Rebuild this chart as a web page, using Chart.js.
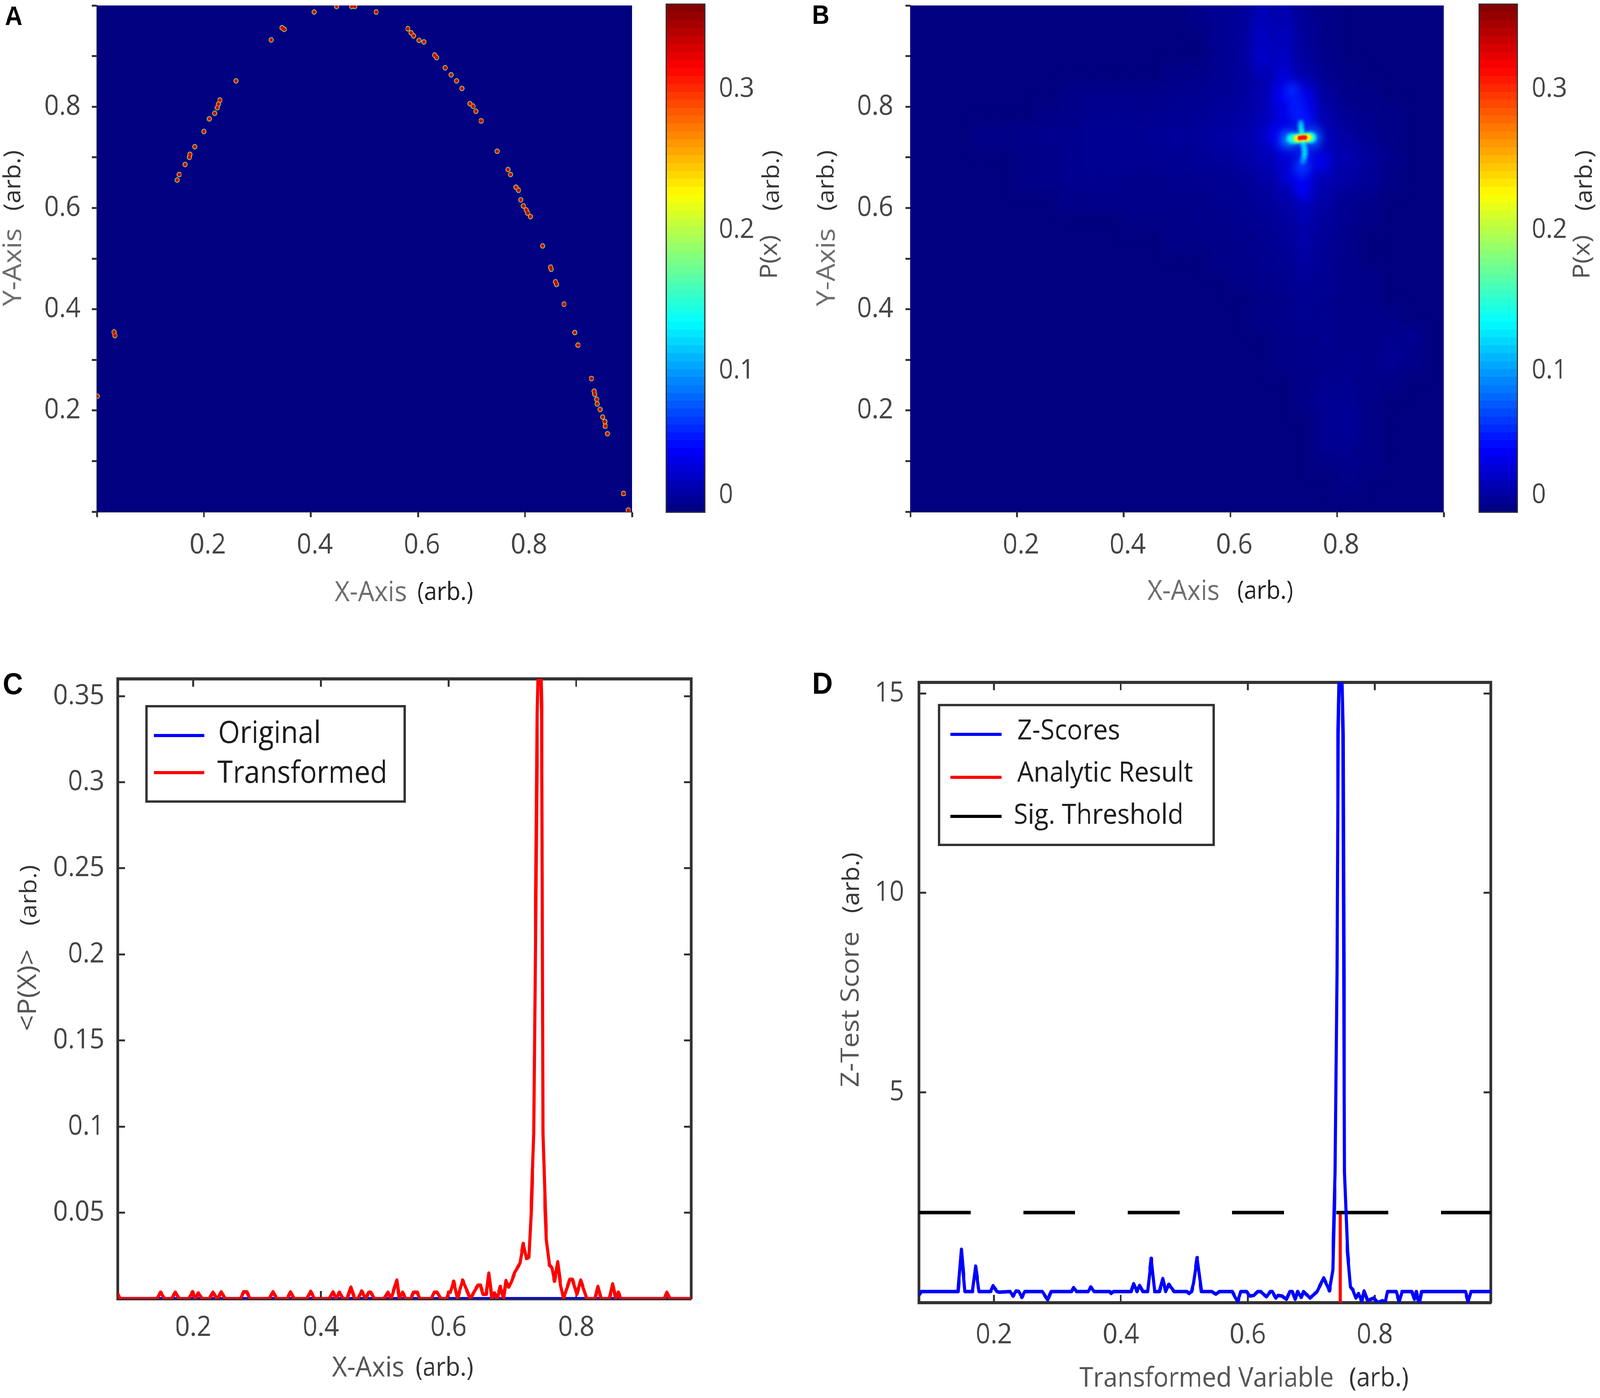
<!DOCTYPE html>
<html>
<head>
<meta charset="UTF-8">
<title>Transformed variable</title>
<script src="https://cdn.jsdelivr.net/npm/chart.js@4"></script>
<style>
html,body{margin:0;padding:0;background:#fff;overflow:hidden;}
#page{position:relative;width:4445px;height:3579px;overflow:hidden;background:#fff;transform-origin:0 0;}
canvas{position:absolute;}
</style>
</head>
<body>
<div id="page"></div>
<script>
// panel A: spots along the arc
var aX = [.001,.032,.034,.150,.154,.165,.173,.174,.183,.200,.210,.220,.225,.227,.230,.260,.326,.346,.350,.406,.448,.476,.482,.522,
  .581,.587,.592,.602,.611,.631,.635,.651,.662,.672,.682,.697,.703,.708,.718,.748,.768,.773,.783,.788,.792,.797,.802,.805,.810,
  .833,.848,.849,.857,.859,.873,.893,.899,.924,.929,.930,.934,.935,.940,.945,.949,.950,.954,.984,.993];
var aY = [.228,.355,.348,.655,.666,.686,.700,.706,.721,.751,.776,.787,.798,.805,.813,.851,.932,.956,.953,.987,.998,.998,.998,.987,
  .954,.946,.940,.931,.928,.902,.897,.877,.863,.851,.836,.806,.801,.791,.772,.712,.676,.666,.641,.635,.616,.604,.596,.590,.583,
  .525,.483,.479,.454,.449,.410,.354,.329,.263,.238,.232,.222,.213,.202,.187,.178,.169,.154,.036,.003];

// panel B: coarse density, in units of 0.0016 of P(x), top row first
var bGridX = [.02,.06,.10,.14,.18,.22,.26,.30,.34,.38,.42,.46,.50,.54,.58,.62,.66,.70,.74,.78,.82,.86,.90,.94,.98];
var bGridY = [.98,.94,.90,.86,.82,.78,.74,.70,.66,.62,.58,.54,.50,.46,.42,.38,.34,.30,.26,.22,.18,.14,.10,.06,.02];
var bGridRows = [
  [0,0,0,0,0,0,0,0,0,0,0,0,0,3,5,6,14,12,5,2,0,0,0,0,0],
  [0,0,0,0,0,0,0,0,0,0,0,0,0,0,5,7,16,14,6,2,0,0,0,0,0],
  [0,0,0,0,0,0,0,0,0,0,0,0,0,0,4,7,18,16,7,3,0,0,0,0,0],
  [0,0,0,0,0,0,0,0,0,0,0,0,2,3,5,7,12,20,10,4,2,0,0,0,0],
  [0,0,0,0,0,0,0,2,3,3,3,3,4,4,6,8,12,28,24,7,3,2,0,0,0],
  [0,0,0,0,0,0,2,3,4,4,4,4,5,6,7,9,13,24,30,10,5,3,2,0,0],
  [0,0,0,2,2,3,4,4,5,5,5,6,7,7,9,11,16,30,40,14,8,4,2,0,0],
  [0,0,0,0,0,2,3,4,5,5,5,5,5,6,7,9,13,20,32,16,12,7,3,0,0],
  [0,0,0,0,0,2,3,4,4,4,3,3,4,4,5,6,9,14,22,13,9,6,2,0,0],
  [0,0,0,0,0,0,0,3,3,3,3,3,3,3,4,5,7,10,16,9,5,3,0,0,0],
  [0,0,0,0,0,0,0,0,0,0,2,2,2,3,3,4,5,8,12,7,4,2,0,0,0],
  [0,0,0,0,0,0,0,0,0,0,0,0,2,2,3,3,4,6,10,6,3,0,0,0,0],
  [0,0,0,0,0,0,0,0,0,0,0,0,0,0,2,3,4,5,8,5,3,0,0,0,0],
  [0,0,0,0,0,0,0,0,0,0,0,0,0,0,0,2,3,4,6,5,3,2,0,0,0],
  [0,0,0,0,0,0,0,0,0,0,0,0,0,0,0,0,2,3,5,4,3,2,0,0,0],
  [0,0,0,0,0,0,0,0,0,0,0,0,0,0,0,0,2,3,4,4,3,3,2,0,0],
  [0,0,0,0,0,0,0,0,0,0,0,0,0,0,0,0,0,2,3,4,3,3,4,4,0],
  [0,0,0,0,0,0,0,0,0,0,0,0,0,0,0,0,0,2,3,3,4,3,5,3,0],
  [0,0,0,0,0,0,0,0,0,0,0,0,0,0,0,0,0,0,2,4,4,3,2,0,0],
  [0,0,0,0,0,0,0,0,0,0,0,0,0,0,0,0,0,0,2,5,5,2,0,0,0],
  [0,0,0,0,0,0,0,0,0,0,0,0,0,0,0,0,0,0,0,5,6,2,0,0,0],
  [0,0,0,0,0,0,0,0,0,0,0,0,0,0,0,0,0,0,0,5,5,2,0,0,0],
  [0,0,0,0,0,0,0,0,0,0,0,0,0,0,0,0,0,0,0,2,3,2,0,0,0],
  [0,0,0,0,0,0,0,0,0,0,0,0,0,0,0,0,0,0,0,0,2,0,0,0,0],
  [0,0,0,0,0,0,0,0,0,0,0,0,0,0,0,0,0,0,0,0,0,0,0,0,0]
];
// panel B: peak, layered from faint to hot
var bHaloX = [.716,.723,.725,.730,.734,.771,.711,.685,.708,.757,.734];
var bHaloY = [.831,.805,.784,.663,.638,.690,.663,.745,.735,.738,.681];
var bHaloV = [.060,.055,.055,.050,.045,.040,.035,.040,.095,.080,.065];
var bSpikeX = [.732,.732,.733,.734,.737,.738,.739,.739,.738,.736];
var bSpikeY = [.768,.761,.754,.747,.728,.721,.714,.706,.699,.692];
var bSpikeV = [.110,.125,.140,.150,.130,.125,.130,.140,.120,.100];
var bCyanX = [.714,.720,.726,.732,.738,.744,.749,.753];
var bCyanY = [.737,.737,.737,.738,.738,.739,.739,.739];
var bYellowX = [.724,.730,.736,.742,.747];
var bYellowY = [.737,.738,.738,.739,.739];
var bRedX = [.730,.735,.740];
var bRedY = [.738,.739,.739];

// panel C
var cX = [.0817,.085,
  .143,.149,.155,.166,.172,.178,
  .193,.199,.203,.208,.214,
  .225,.231,.237,.238,.244,.250,
  .274,.279,.284,.289,
  .319,.325,.331,.347,.3525,.358,
  .378,.384,.390,.413,.419,.424,.429,.435,
  .441,.447,.453,.458,.464,.470,
  .475,.478,.484,.499,.505,.510,
  .519,.523,.528,.533,.541,.545,.551,.555,
  .573,.5775,.582,.588,.597,.600,.603,.608,.614,
  .622,.634,.646,.650,.654,.659,.663,.668,
  .672,.6765,.681,.686,.690,.694,.698,.704,
  .712,.717,.722,.726,.7295,.7335,.736,.739,.7425,
  .746,.748,.7516,.7533,.758,.762,.766,.771,.7755,.780,
  .790,.794,.801,.807,.8165,.8295,.834,.839,
  .852,.857,.862,.866,.870,.938,.942,.947,.98];
var cTransformed = [.003,0,
  0,.0038,0,0,.0038,0,
  0,.0041,0,.0034,0,
  0,.0038,0,0,.004,0,
  0,.004,.004,0,
  0,.0041,0,0,.004,0,
  0,.0043,0,0,.004,0,.0038,0,
  0,.0068,0,0,.0045,0,
  .0038,.0038,0,0,.0038,0,
  .0109,0,.0038,0,0,.0038,.0038,0,
  0,.0038,.0038,0,0,.0038,.0038,.0102,0,
  .0109,0,.0079,.0079,.0026,.0026,.0149,0,
  .0034,0,.0072,0,.0106,.0068,.0094,.0155,
  .0207,.0321,.0234,.0241,.0509,.0962,.2,.34,.40,
  .34,.0962,.0509,.0343,.0196,.0181,.0102,.0215,.0079,0,
  .0113,.0113,.0026,.0109,0,0,.0072,0,
  0,.0087,0,.0038,0,0,.0038,0,0];
var cOriginalX = [.0817,.98];
var cOriginal = [0,0];
var cLegend = ['Original','Transformed'];

// panel D
var dX = [.0818,.0858,.1436,.1488,.1543,.1663,.1712,.1765,
  .1949,.1986,.2048,.2087,.2256,.2303,.2349,.2395,.2441,.2487,
  .2764,.2847,.2902,.3225,.3256,.3302,.3486,.3526,.3579,
  .3825,.3846,.3886,.4163,.4203,.4255,.4295,.4347,.4424,.4479,.4532,
  .4609,.466,.4707,.4756,.4839,.5039,.5076,.5116,.5146,.5202,.5269,
  .5341,.5433,.5495,.5556,.5756,.5802,.5842,.5888,.598,
  .6033,.6094,.6155,.6202,.6294,.6356,.6386,.6441,.6478,.654,.6608,
  .6663,.67,.6746,.6786,.6841,.6878,.698,.7093,.7195,.7287,.7339,
  .7376,.7405,.7422,.746,.7501,.7524,.757,.7617,.7653,
  .7702,.7745,.7794,.7831,.7887,.7984,.8047,.8123,.8163,.82,
  .8339,.8385,.8431,.8584,.8625,.8655,.8698,.8738,.943,.947,.9516,.9836];
var dZScores = [-.098,0,0,1.06,0,0,.637,0,
  0,.147,0,-.016,0,-.114,.016,0,-.147,0,
  0,-.212,0,0,.098,0,0,.114,0,
  0,-.049,0,0,.196,0,.154,0,0,.833,0,
  0,.327,0,.18,0,0,-.049,0,.212,.85,0,
  0,0,-.065,0,0,-.147,-.261,0,0,
  -.114,-.098,0,0,-.131,0,0,-.163,-.098,-.114,-.196,
  0,0,-.196,0,-.147,0,-.163,0,.343,.016,.539,
  2.99,8,14,17,14,2.99,1.03,.114,.049,
  -.163,-.049,-.245,.016,-.229,-.163,-.278,-.229,-.294,0,
  0,-.261,0,0,-.196,0,-.327,0,0,-.261,0,0];
var dThresholdX = [.082,.983];
var dThreshold = [1.98,1.98];
var dAnalyticX = [.7457,.7457];
var dAnalytic = [-.28,1.98];
var dLegend = ['Z-Scores','Analytic Result','Sig. Threshold'];

// ticks
var heatXTicks = [0,.2,.4,.6,.8,1];
var heatXLabels = ['','0.2','0.4','0.6','0.8',''];
var heatYTicks = [0,.1,.2,.3,.4,.5,.6,.7,.8,.9,1];
var heatYLabels = ['','','0.2','','0.4','','0.6','','0.8','',''];
var cbarTicks = [0,.05,.1,.15,.2,.25,.3,.35];
var cbarLabels = [['0',''],'','0.1','','0.2','','0.3',''];
var lineXTicks = [.2,.4,.6,.8];
var lineXLabels = ['0.2','0.4','0.6','0.8'];
var cYTicks = [.05,.1,.15,.2,.25,.3,.35];
var cYLabels = ['0.05','0.1','0.15','0.2','0.25','0.3','0.35'];
var dYTicks = [5,10,15];
var dYLabels = ['5','10','15'];
var cbarTop = [.36];

var FONT = "'Open Sans', sans-serif";
var INK = '#333';

// the browser window can come up narrower than the 4445px layout, so squeeze it to fit
if (window.innerWidth < 4445) {
  document.getElementById('page').style.transform = 'scaleX(' + (window.innerWidth / 4445) + ')';
}

function jet(v) {
  var t = Math.min(1, Math.max(0, v / .36));
  function ch(c) { return Math.round(255 * Math.min(1, Math.max(0, 1.5 - Math.abs(4 * t - c)))); }
  return 'rgb(' + ch(3) + ',' + ch(2) + ',' + ch(1) + ')';
}

function pts(xs, ys, vs) {
  return xs.map(function(x, i) { return {x: x, y: ys[i], v: vs ? vs[i] : 0}; });
}

function gridPts() {
  var out = [];
  bGridRows.forEach(function(row, r) {
    row.forEach(function(v, c) {
      if (v > 0) out.push({x: bGridX[c], y: bGridY[r], v: v * .0016});
    });
  });
  // brightest on top
  return out.sort(function(a, b) { return a.v - b.v; });
}

// blur per dataset, for the interpolated look of the heat maps
var blurPlugin = {
  id: 'blurLayer',
  beforeDatasetDraw: function(chart, args) {
    var b = chart.data.datasets[args.index].blurPx;
    if (b) { chart.ctx.save(); chart.ctx.filter = 'blur(' + b + 'px)'; }
  },
  afterDatasetDraw: function(chart, args) {
    if (chart.data.datasets[args.index].blurPx) chart.ctx.restore();
  }
};

var plotBg = {
  id: 'plotBg',
  beforeDatasetsDraw: function(chart, args, opts) {
    if (!opts.color) return;
    var a = chart.chartArea;
    chart.ctx.fillStyle = opts.color;
    chart.ctx.fillRect(a.left, a.top, a.width, a.height);
  }
};

// axis captions come in two colours, so they are drawn here and not as scale titles
var captions = {
  id: 'captions',
  afterDraw: function(chart, args, opts) {
    var ctx = chart.ctx;
    (opts.items || []).forEach(function(c) {
      ctx.save();
      ctx.translate(c.x - opts.l, c.y - opts.t);
      if (c.r) ctx.rotate(c.r * Math.PI / 180);
      ctx.font = (c.w || 'normal') + ' ' + c.s + 'px ' + (c.f || FONT);
      ctx.fillStyle = c.c;
      ctx.textAlign = 'center';
      ctx.textBaseline = 'middle';
      ctx.fillText(c.t, 0, 0);
      ctx.restore();
    });
  }
};

var boxLegend = {
  id: 'boxLegend',
  afterDraw: function(chart, args, opts) {
    if (!opts.box) return;
    var ctx = chart.ctx, ox = opts.l, oy = opts.t, b = opts.box;
    ctx.save();
    ctx.strokeStyle = INK;
    ctx.lineWidth = 6;
    ctx.strokeRect(b[0] - ox, b[1] - oy, b[2] - b[0], b[3] - b[1]);
    opts.labels.forEach(function(label, i) {
      ctx.strokeStyle = opts.colors[i];
      ctx.lineWidth = 8;
      ctx.beginPath();
      ctx.moveTo(opts.lineX[0] - ox, opts.lineY[i] - oy);
      ctx.lineTo(opts.lineX[1] - ox, opts.lineY[i] - oy);
      ctx.stroke();
      ctx.fillStyle = '#1c1c1c';
      ctx.font = opts.size + 'px ' + FONT;
      ctx.textBaseline = 'middle';
      ctx.fillText(label, opts.textX[i] - ox, opts.textY[i] - oy);
    });
    ctx.restore();
  }
};

function axis(position, range, ticks, labels, o) {
  o = o || {};
  var horizontal = position == 'bottom' || position == 'top';
  var cfg = {
    type: o.type || 'linear',
    position: position,
    min: range[0],
    max: range[1],
    // the axis box only holds the labels; no extra margin for tick text
    afterFit: function(s) {
      if (horizontal) s.height = cfg.room || 0; else s.width = cfg.room || 0;
      s.paddingLeft = s.paddingRight = s.paddingTop = s.paddingBottom = 0;
    },
    afterBuildTicks: function(s) { s.ticks = ticks.map(function(v) { return {value: v}; }); },
    border: {display: true, color: INK, width: o.border || 8},
    grid: {drawOnChartArea: false, drawTicks: ticks.length > 0, tickLength: o.tick || 0, tickWidth: 5, tickColor: INK},
    ticks: {
      display: !!labels,
      autoSkip: false,
      maxRotation: 0,
      padding: o.pad || 0,
      labelOffset: o.offset || 0,
      color: '#444',
      font: {family: FONT, size: o.size || 72},
      callback: function(v, i) { return labels ? labels[i] : ''; }
    }
  };
  return cfg;
}

function makeChart(box, plot, config, caps, legend) {
  var cv = document.createElement('canvas');
  cv.width = box.w;
  cv.height = box.h;
  cv.style.left = box.l + 'px';
  cv.style.top = box.t + 'px';
  cv.style.width = box.w + 'px';
  cv.style.height = box.h + 'px';
  document.getElementById('page').appendChild(cv);
  var pad = {left: plot.l - box.l, top: plot.t - box.t, right: box.l + box.w - plot.r, bottom: box.t + box.h - plot.b};
  Object.keys(config.options.scales).forEach(function(k) {
    var s = config.options.scales[k];
    if (s.ticks.display) { s.room = pad[s.position]; pad[s.position] = 0; }
  });
  config.options.responsive = false;
  config.options.animation = false;
  config.options.events = [];
  config.options.layout = {autoPadding: false, padding: pad};
  config.options.plugins = {
    legend: {display: false},
    tooltip: {enabled: false},
    plotBg: {color: config.bg},
    captions: {items: caps, l: box.l, t: box.t},
    boxLegend: Object.assign({l: box.l, t: box.t}, legend || {})
  };
  config.plugins = [blurPlugin, plotBg, captions, boxLegend];
  return new Chart(cv, config);
}

function spot(data, color, radius, blur) {
  return {data: data, pointStyle: 'circle', pointRadius: radius, pointBackgroundColor: color, pointBorderWidth: 0, blurPx: blur};
}

function heatScales(extra) {
  return {
    x: axis('bottom', [0, 1], heatXTicks, heatXLabels, {border: 3, tick: 14, pad: 29, offset: 11}),
    y: axis('left', [0, 1], heatYTicks, heatYLabels, {border: 3, tick: 14, pad: extra})
  };
}

function colorbar(box, plot, pad, caps) {
  var bands = function(c) {
    var a = c.chart.chartArea;
    if (!a) return '#000';
    var g = c.chart.ctx.createLinearGradient(0, a.bottom, 0, a.top);
    for (var i = 0; i < 64; i++) {
      g.addColorStop(i / 64, jet((i + .5) / 64 * .36));
      g.addColorStop((i + 1) / 64, jet((i + .5) / 64 * .36));
    }
    return g;
  };
  makeChart(box, plot, {
    type: 'bar',
    data: {labels: ['P(x)'], datasets: [{data: cbarTop, backgroundColor: bands, barPercentage: 1, categoryPercentage: 1}]},
    options: {scales: {
      x: axis('bottom', [undefined, undefined], [], null, {type: 'category', border: 6}),
      x2: axis('top', [0, 1], [], null, {border: 6}),
      y: axis('right', [0, .36], cbarTicks, cbarLabels, {border: 6, tick: -14, pad: pad, size: 70}),
      y2: axis('left', [0, .36], [], null, {border: 6})
    }}
  }, caps);
}

var plotA = {l: 269, t: 14, r: 1756, b: 1310};
var plotB = {l: 2529, t: 14, r: 4011, b: 1310};
var plotC = {l: 327, t: 1738, r: 1920, b: 3325};
var plotD = {l: 2553, t: 1747, r: 4142, b: 3335};

// A
var aSpots = pts(aX, aY);
makeChart({l: 0, t: 0, w: 1850, h: 1640}, plotA, {
  type: 'scatter',
  bg: jet(0),
  data: {datasets: [
    spot(aSpots, jet(.335), 4.6),
    spot(aSpots, jet(.27), 6),
    spot(aSpots, jet(.16), 7)
  ]},
  options: {scales: heatScales(31)}
}, [
  {t: 'A', x: 38, y: 45, s: 68, c: '#000', w: 'bold', f: "'Liberation Sans'"},
  {t: 'X-Axis', x: 1030, y: 1518, s: 72, c: '#6e6e6e'},
  {t: '(arb.)', x: 1237, y: 1518, s: 64, c: '#222'},
  {t: 'Y-Axis', x: 38, y: 684, r: -90, s: 72, c: '#6e6e6e'},
  {t: '(arb.)', x: 38, y: 462, r: -90, s: 64, c: '#333'}
]);
colorbar({l: 1840, t: 0, w: 380, h: 1400}, {l: 1852, t: 12, r: 1957, b: 1310}, 54, [
  {t: 'P(x)', x: 2139, y: 658, r: -90, s: 66, c: '#555'},
  {t: '(arb.)', x: 2146, y: 462, r: -90, s: 64, c: '#333'}
]);

// B, hottest layer listed first because Chart.js paints the first dataset last
function cells(data, radius, blur) {
  return {
    data: data,
    pointStyle: 'rect',
    pointRadius: radius,
    pointBackgroundColor: function(c) { return c.raw ? jet(c.raw.v) : '#000'; },
    pointBorderWidth: 0,
    blurPx: blur
  };
}
function flat(xs, ys, v) {
  return xs.map(function(x, i) { return {x: x, y: ys[i], v: v}; });
}
makeChart({l: 2220, t: 0, w: 1880, h: 1640}, plotB, {
  type: 'scatter',
  bg: jet(0),
  data: {datasets: [
    spot(flat(bRedX, bRedY, .31), jet(.31), 6, 1.5),
    spot(flat(bYellowX, bYellowY, .23), jet(.23), 9, 3),
    spot(flat(bCyanX, bCyanY, .14), jet(.14), 12, 5),
    cells(pts(bSpikeX, bSpikeY, bSpikeV), 9, 4),
    cells(pts(bHaloX, bHaloY, bHaloV), 26, 12),
    cells(gridPts(), 44, 16)
  ]},
  options: {scales: heatScales(33)}
}, [
  {t: 'B', x: 2280, y: 42, s: 68, c: '#000', w: 'bold', f: "'Liberation Sans'"},
  {t: 'X-Axis', x: 3288, y: 1515, s: 72, c: '#6e6e6e'},
  {t: '(arb.)', x: 3515, y: 1515, s: 64, c: '#222'},
  {t: 'Y-Axis', x: 2298, y: 684, r: -90, s: 72, c: '#6e6e6e'},
  {t: '(arb.)', x: 2298, y: 462, r: -90, s: 64, c: '#333'}
]);
colorbar({l: 4100, t: 0, w: 345, h: 1400}, {l: 4111, t: 12, r: 4214, b: 1310}, 55, [
  {t: 'P(x)', x: 4397, y: 658, r: -90, s: 66, c: '#555'},
  {t: '(arb.)', x: 4404, y: 462, r: -90, s: 64, c: '#333'}
]);

// C
function lineSet(label, xs, ys, color, dash) {
  return {
    label: label,
    data: pts(xs, ys),
    borderColor: color,
    borderWidth: 9,
    borderDash: dash || [],
    borderJoinStyle: 'round',
    pointRadius: 0,
    tension: 0,
    fill: false
  };
}
function frameScales(xr, yr, yTicks, yLabels, xPad, yPad) {
  return {
    x: axis('bottom', xr, lineXTicks, lineXLabels, {tick: -20, pad: xPad}),
    x2: axis('top', xr, lineXTicks, null, {tick: -20}),
    y: axis('left', yr, yTicks, yLabels, {tick: -20, pad: yPad}),
    y2: axis('right', yr, yTicks, null, {tick: -20})
  };
}
makeChart({l: 0, t: 1680, w: 2200, h: 1899}, plotC, {
  type: 'line',
  data: {datasets: [
    lineSet(cLegend[1], cX, cTransformed, '#ff0000'),
    lineSet(cLegend[0], cOriginalX, cOriginal, '#0000ff')
  ]},
  options: {scales: frameScales([.0817, .98], [0, .36], cYTicks, cYLabels, 51, 57)}
}, [
  {t: 'C', x: 36, y: 1755, s: 78, c: '#000', w: 'bold', f: "'Liberation Sans'"},
  {t: 'X-Axis', x: 1023, y: 3503, s: 72, c: '#555'},
  {t: '(arb.)', x: 1235, y: 3503, s: 66, c: '#333'},
  {t: '<P(X)>', x: 79, y: 2535, r: -90, s: 72, c: '#555'},
  {t: '(arb.)', x: 83, y: 2292, r: -90, s: 64, c: '#333'}
], {
  box: [407, 1808, 1124, 2052], labels: cLegend, colors: ['#0000ff', '#ff0000'],
  lineX: [428, 568], lineY: [1883, 1978], textX: [606, 604], textY: [1880, 1982], size: 78
});

// D
makeChart({l: 2220, t: 1680, w: 2225, h: 1899}, plotD, {
  type: 'line',
  data: {datasets: [
    lineSet(dLegend[0], dX, dZScores, '#0000ff'),
    lineSet(dLegend[2], dThresholdX, dThreshold, '#000000', [144, 146]),
    lineSet(dLegend[1], dAnalyticX, dAnalytic, '#ff0000')
  ]},
  options: {scales: frameScales([.082, .983], [-.28, 15.28], dYTicks, dYLabels, 60, 61)}
}, [
  {t: 'D', x: 2285, y: 1754, s: 78, c: '#000', w: 'bold', f: "'Liberation Sans'"},
  {t: 'Transformed Variable', x: 3352, y: 3530, s: 70, c: '#555'},
  {t: '(arb.)', x: 3831, y: 3530, s: 68, c: '#333'},
  {t: 'Z-Test Score', x: 2365, y: 2584, r: -90, s: 70, c: '#555'},
  {t: '(arb.)', x: 2368, y: 2260, r: -90, s: 64, c: '#333'}
], {
  box: [2609, 1805, 3372, 2163], labels: dLegend, colors: ['#0000ff', '#ff0000', '#000000'],
  lineX: [2640, 2782], lineY: [1880, 1990, 2090], textX: [2826, 2826, 2816], textY: [1872, 1980, 2088], size: 72
});
</script>
</body>
</html>
